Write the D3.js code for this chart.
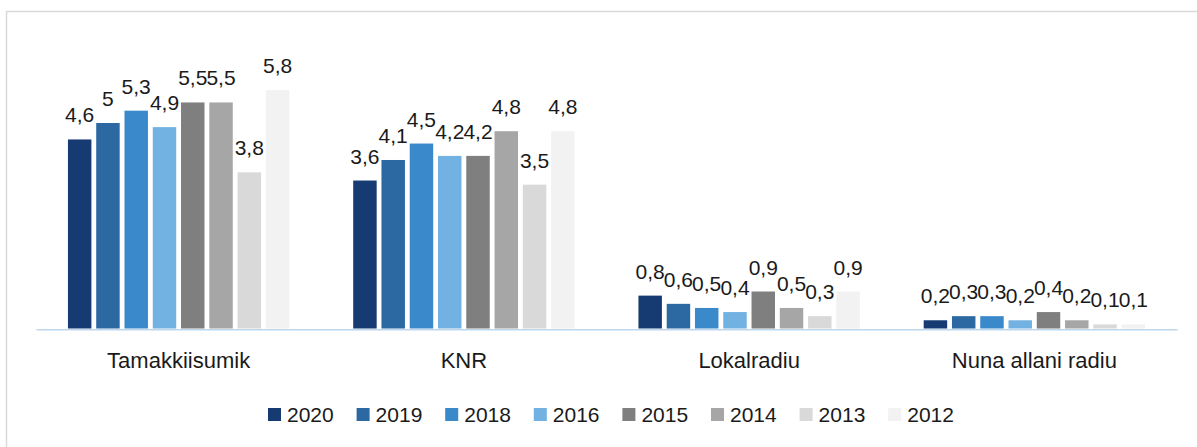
<!DOCTYPE html>
<html>
<head>
<meta charset="utf-8">
<script src="https://cdn.jsdelivr.net/npm/d3@7"></script>
<style>
  html, body { margin: 0; padding: 0; background: #fff; }
  svg { display: block; }
  text { font-family: "Liberation Sans", Arial, sans-serif; fill: #1a1a1a; }
</style>
</head>
<body>
<svg id="chart" width="1197" height="447"></svg>
<script>
const categories = ["Tamakkiisumik", "KNR", "Lokalradiu", "Nuna allani radiu"];
const years = ["2020", "2019", "2018", "2016", "2015", "2014", "2013", "2012"];
const v2020 = [4.6, 3.6, 0.8, 0.2];
const v2019 = [5.0, 4.1, 0.6, 0.3];
const v2018 = [5.3, 4.5, 0.5, 0.3];
const v2016 = [4.9, 4.2, 0.4, 0.2];
const v2015 = [5.5, 4.2, 0.9, 0.4];
const v2014 = [5.5, 4.8, 0.5, 0.2];
const v2013 = [3.8, 3.5, 0.3, 0.1];
const v2012 = [5.8, 4.8, 0.9, 0.1];
const seriesValues = [v2020, v2019, v2018, v2016, v2015, v2014, v2013, v2012];
const colors = ["#163a72", "#2c68a2", "#3a89cb", "#72b2e2", "#7f7f7f", "#a6a6a6", "#d9d9d9", "#f2f2f2"];

const svg = d3.select("#chart");

// outer chart border
svg.append("rect")
  .attr("x", 6.5).attr("y", 11.5)
  .attr("width", 1300).attr("height", 500)
  .attr("fill", "none").attr("stroke", "#d9d9d9").attr("stroke-width", 1.5);

const x0 = d3.scaleBand().domain(categories).range([36, 1177]).paddingInner(0).paddingOuter(0);
const x1 = d3.scaleBand().domain(years).range([0, x0.bandwidth()]).paddingInner(0.17).paddingOuter(1.13);
const y = d3.scaleLinear().domain([0, 7]).range([328.5, 40.8]);

const fmt = v => String(v).replace(".", ",");

const groups = svg.append("g").selectAll("g")
  .data(categories)
  .join("g")
  .attr("transform", d => `translate(${x0(d)},0)`);

groups.each(function(cat, ci) {
  const g = d3.select(this);
  const rows = years.map((yr, si) => ({ yr, si, v: seriesValues[si][ci] }));
  g.selectAll("rect")
    .data(rows)
    .join("rect")
    .attr("x", d => x1(d.yr))
    .attr("y", d => y(d.v))
    .attr("width", x1.bandwidth())
    .attr("height", d => y(0) - y(d.v))
    .attr("fill", d => colors[d.si]);
  g.selectAll("text.lbl")
    .data(rows)
    .join("text")
    .attr("class", "lbl")
    .attr("x", d => x1(d.yr) + x1.bandwidth() / 2)
    .attr("y", d => y(d.v) - 17)
    .attr("text-anchor", "middle")
    .style("font-size", "21px")
    .text(d => fmt(d.v));
});

// category axis
const xAxis = d3.axisBottom(x0).tickSize(0).tickPadding(0);
const ax = svg.append("g").attr("transform", "translate(0,329.3)").call(xAxis);
ax.select(".domain").attr("stroke", "#bdd7ee").attr("stroke-width", 1.6);
ax.selectAll(".tick text")
  .attr("y", 38.5).attr("dy", 0)
  .style("font-size", "22px")
  .style("font-family", '"Liberation Sans", Arial, sans-serif')
  .attr("fill", "#1a1a1a");

// legend
const legend = svg.append("g").selectAll("g")
  .data(years)
  .join("g")
  .attr("transform", (d, i) => `translate(${268 + i * 88.6},408)`);
legend.append("rect")
  .attr("width", 13).attr("height", 13)
  .attr("fill", (d, i) => colors[i]);
legend.append("text")
  .attr("x", 19).attr("y", 13.5)
  .style("font-size", "21px")
  .text(d => d);
</script>
</body>
</html>
